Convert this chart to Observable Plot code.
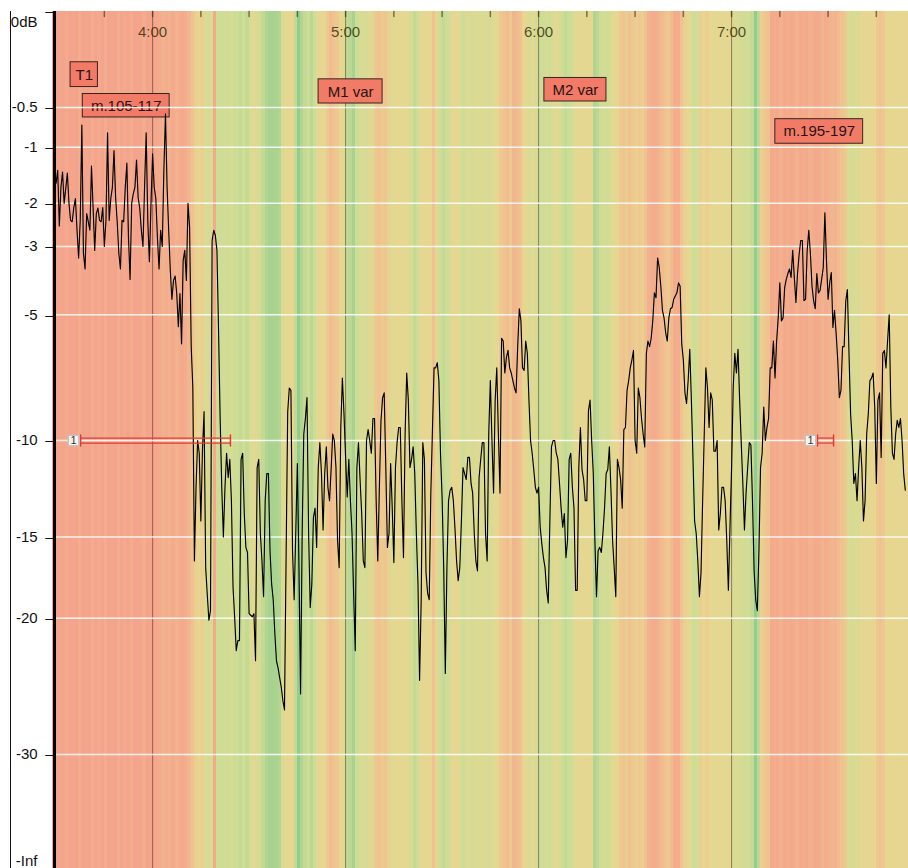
<!DOCTYPE html>
<html><head><meta charset="utf-8">
<script src="https://cdn.jsdelivr.net/npm/d3@7"></script>
<script src="https://cdn.jsdelivr.net/npm/@observablehq/plot@0.6"></script>
<style>
body{margin:0;background:#fff;}
#wrap{position:relative;width:908px;height:868px;overflow:hidden;}
#wrap svg{display:block;}
#mask{position:absolute;left:0;top:0;width:10px;height:868px;background:#fff;}
#edge{position:absolute;left:10px;top:11px;width:1px;height:857px;background:#111;}
</style></head><body><div id="wrap"><div id="mask"></div><div id="edge"></div></div>
<script>
// ---- time axis (seconds) ----
const xDomain = [209.5, 475];
const minuteTicks = [240, 300, 360, 420];
const quarterTicks = [225, 240, 255, 270, 285, 300, 315, 330, 345, 360, 375, 390, 405, 420, 435, 450, 465];

// ---- level axis (dB) ----
const yDomain = [-39.9, 0];
const levelTicks = [0, -0.5, -1, -2, -3, -5, -10, -15, -20, -30];
const gridLevels = [-0.5, -1, -2, -3, -5, -10, -15, -20, -30];
const endLabels = ["0dB", "-Inf"];
const endLevels = [0, -39.9];

// ---- loudness curve (dB), one value every loudStep seconds from loudStart ----
const loudStart = 210;
const loudStep = 0.5;
const loudness = [
 -1.6,-1.37,-2.5,-1.68,-1.4,-2.0,-1.7,-1.42,-2.0,-2.37,-2.4,-2.09,-1.9,-2.6,-3.3,-2.37,-0.7,-3.18,-3.6,-2.22,
 -2.4,-2.6,-1.3,-2.09,-3.1,-2.22,-2.1,-2.37,-2.4,-2.09,-3.0,-2.37,-0.8,-2.37,-1.9,-1.68,-1.05,-1.88,-2.4,-3.18,
 -3.6,-2.37,-2.4,-1.68,-1.25,-2.78,-3.9,-2.0,-1.8,-1.68,-1.2,-1.88,-2.1,-2.6,-3.0,-1.68,-0.8,-2.37,-3.4,-2.0,
 -1.1,-1.68,-1.9,-2.78,-3.6,-2.6,-3.0,-1.37,-0.57,-1.68,-2.6,-3.64,-4.5,-3.93,-3.8,-4.32,-5.4,-4.32,-6.0,-3.37,
 -3.1,-3.93,-2.0,-2.53,-6.1,-7.68,-16.4,-12.3,-10.0,-10.6,-14.1,-10.46,-8.7,-16.8,-18.5,-20.13,-19.5,-2.85,-2.6,-2.72,
 -3.1,-5.52,-9.0,-12.3,-15.0,-12.3,-10.6,-11.8,-10.9,-13.0,-18.0,-19.9,-22.2,-21.5,-21.5,-10.9,-10.6,-13.7,-15.6,-15.9,
 -19.7,-19.8,-19.9,-19.7,-22.9,-11.3,-10.9,-14.8,-16.4,-18.6,-13.0,-11.6,-11.6,-15.8,-17.8,-18.8,-21.0,-22.9,-23.4,-24.1,
 -24.8,-25.8,-26.5,-16.2,-8.7,-7.7,-7.8,-15.8,-18.8,-14.8,-11.1,-16.8,-25.3,-14.8,-9.7,-9.0,-8.1,-14.8,-19.3,-17.8,
 -13.9,-13.4,-15.6,-11.3,-10.1,-11.6,-14.6,-11.6,-10.3,-12.3,-13.0,-11.4,-9.7,-10.0,-11.3,-15.2,-16.8,-9.4,-7.3,-8.8,
 -10.8,-12.8,-10.9,-13.0,-14.8,-18.4,-22.2,-11.3,-10.1,-11.9,-13.7,-16.4,-16.8,-10.0,-9.5,-10.0,-10.6,-9.0,-9.0,-13.0,
 -16.4,-12.3,-9.1,-8.1,-7.9,-11.3,-15.6,-14.8,-11.1,-13.4,-16.5,-11.3,-10.1,-9.4,-9.4,-13.0,-16.2,-9.7,-7.1,-8.2,
 -11.3,-10.9,-10.3,-11.6,-14.8,-17.8,-24.3,-18.8,-10.1,-10.9,-17.1,-18.4,-18.8,-12.6,-9.5,-6.9,-6.9,-6.7,-7.4,-10.6,
 -12.8,-16.8,-23.8,-16.8,-13.0,-12.45,-12.3,-13.0,-14.5,-16.4,-17.6,-16.8,-14.1,-11.3,-11.6,-11.9,-10.8,-10.8,-12.1,-12.6,
 -14.8,-16.4,-17.0,-11.8,-10.9,-10.1,-10.1,-14.8,-16.4,-9.7,-7.4,-10.0,-12.6,-8.2,-6.9,-9.7,-12.6,-5.8,-5.9,-7.1,
 -6.5,-6.24,-6.9,-7.1,-7.4,-7.7,-7.9,-6.1,-4.8,-5.19,-6.9,-7.0,-5.9,-6.35,-8.2,-10.0,-10.6,-11.4,-12.3,-12.6,
 -12.3,-14.45,-15.4,-16.2,-16.8,-18.2,-19.0,-14.1,-10.3,-10.0,-10.0,-10.6,-10.9,-12.1,-13.4,-14.45,-13.7,-16.2,-15.2,-10.9,
 -10.6,-12.3,-13.4,-18.2,-18.2,-11.3,-9.4,-11.4,-11.9,-13.0,-13.0,-8.65,-8.2,-10.0,-11.6,-15.2,-18.6,-15.8,-15.6,-15.9,
 -14.8,-13.4,-11.6,-11.4,-10.3,-12.45,-15.2,-16.8,-18.6,-10.9,-11.3,-11.9,-13.4,-9.5,-9.4,-7.8,-7.4,-6.9,-6.6,-6.24,
 -10.0,-10.6,-7.7,-8.1,-9.0,-9.7,-10.3,-6.35,-5.9,-6.1,-5.8,-5.19,-4.3,-4.45,-3.3,-3.56,-4.1,-4.85,-5.1,-5.6,
 -5.9,-5.09,-4.8,-4.76,-4.5,-4.4,-4.3,-4.0,-4.1,-6.0,-6.6,-7.9,-8.35,-7.4,-6.2,-8.2,-10.9,-14.1,-14.8,-16.4,
 -18.6,-17.1,-13.0,-9.7,-6.9,-7.7,-9.4,-7.9,-8.2,-10.5,-10.5,-10.0,-14.6,-13.7,-12.3,-12.3,-13.0,-15.2,-18.2,-14.45,
 -11.3,-7.7,-6.35,-7.1,-6.2,-8.2,-10.1,-12.1,-14.6,-12.6,-11.3,-10.1,-10.2,-13.0,-17.0,-18.8,-19.5,-15.8,-11.3,-10.6,
 -8.5,-10.0,-9.4,-9.0,-6.9,-6.9,-5.9,-7.3,-5.9,-5.1,-4.0,-5.2,-5.1,-4.14,-3.9,-3.73,-3.6,-3.84,-3.1,-3.84,
 -4.6,-3.73,-3.2,-2.85,-2.85,-4.54,-4.5,-3.1,-2.6,-3.18,-4.1,-4.54,-4.8,-3.73,-4.3,-4.23,-3.9,-3.56,-2.2,-3.37,
 -4.5,-4.0,-3.7,-5.42,-4.85,-5.63,-6.6,-8.1,-7.8,-6.1,-6.1,-4.54,-4.2,-6.35,-8.8,-10.0,-12.1,-11.6,-13.0,-11.3,
 -10.0,-11.3,-14.1,-13.0,-9.7,-8.8,-7.4,-7.3,-7.1,-8.5,-12.1,-8.2,-7.9,-10.8,-6.35,-6.24,-6.9,-5.88,-5.0,-8.5,
 -10.6,-10.9,-9.7,-9.08,-9.4,-9.0,-10.0,-11.6,-12.45
];

// ---- background tone stripes, one per second from stripeStart (0 = red, 1 = green) ----
const stripeStart = 209;
const stripeTone = [
 0.05,
 0.05,0.08,0.05,0.1,0.05,0.08,0.05,0.15,0.05,0.08,
 0.05,0.15,0.05,0.1,0.05,0.15,0.05,0.08,0.05,0.15,
 0.05,0.1,0.05,0.15,0.05,0.05,0.08,0.15,0.05,0.08,
 0.05,0.1,0.15,0.2,0.15,0.2,0.12,0.2,0.15,0.1,
 0.15,0.25,0.35,0.45,0.5,0.45,0.6,0.65,0.6,0.1,
 0.7,0.7,0.65,0.7,0.6,0.72,0.7,0.75,0.68,0.75,
 0.6,0.55,0.6,0.65,0.75,0.85,0.9,0.9,0.88,0.85,
 0.6,0.5,0.55,0.5,0.75,1.0,0.85,0.75,0.7,0.8,
 0.7,0.55,0.5,0.55,0.4,0.3,0.35,0.4,0.5,0.55,
 0.75,0.8,0.9,0.7,0.65,0.6,0.65,0.55,0.6,0.4,
 0.35,0.4,0.38,0.45,0.6,0.55,0.5,0.55,0.5,0.55,
 0.6,0.75,0.7,0.55,0.5,0.55,0.5,0.35,0.5,0.7,
 0.75,0.7,0.65,0.55,0.5,0.55,0.7,0.65,0.6,0.62,
 0.6,0.6,0.6,0.6,0.65,0.6,0.55,0.5,0.4,0.35,
 0.3,0.4,0.25,0.3,0.35,0.5,0.55,0.6,0.55,0.65,
 0.7,0.7,0.65,0.7,0.6,0.55,0.6,0.7,0.75,0.72,
 0.7,0.55,0.5,0.55,0.55,0.5,0.55,0.85,0.8,0.7,
 0.65,0.7,0.6,0.55,0.5,0.4,0.38,0.42,0.35,0.4,
 0.45,0.4,0.45,0.35,0.2,0.15,0.15,0.2,0.3,0.35,
 0.4,0.3,0.15,0.15,0.35,0.45,0.5,0.55,0.7,0.65,
 0.45,0.5,0.45,0.5,0.55,0.55,0.5,0.55,0.55,0.5,
 0.65,0.6,0.65,0.62,0.7,0.65,0.75,1.0,0.8,0.45,
 0.4,0.35,0.1,0.15,0.1,0.2,0.1,0.15,0.1,0.12,
 0.2,0.1,0.15,0.1,0.2,0.15,0.1,0.12,0.2,0.15,
 0.2,0.25,0.2,0.3,0.35,0.4,0.6,0.65,0.6,0.62,
 0.55,0.5,0.55,0.5,0.5,0.4,0.35,0.4,0.5,0.55,
 0.5,0.5,0.55,0.5,0.5,0.5
];
const toneStops = [0, 0.3, 0.5, 0.7, 1];
const toneColors = ["#f59f8b", "#f1bb8f", "#e8d690", "#cedd96", "#93cc8c"];

// ---- annotation boxes ----
const annoLabels = ["T1", "m.105-117", "M1 var", "M2 var", "m.195-197"];
const annoStart  = [214.5, 218.3, 291.6, 361.8, 433.6];
const annoEnd    = [223.0, 245.3, 311.5, 381.1, 460.9];
const annoTop    = [-0.14, -0.37, -0.25, -0.24, -0.63];
const annoBottom = [-0.31, -0.61, -0.46, -0.44, -0.95];

// ---- range markers ----
const markerLabels = ["1", "1"];
const markerStart  = [217.6, 446.7];
const markerEnd    = [264.2, 451.7];
const markerLevel  = [-10, -10];

const F = "'Liberation Sans', Arial, sans-serif";
const stripes = stripeTone.map((v, i) => ({t: stripeStart + i, v}));
const series = loudness.map((v, i) => ({t: loudStart + i * loudStep, v}));
const annos = annoLabels.map((label, i) => ({label, t1: annoStart[i], t2: annoEnd[i], top: annoTop[i], bottom: annoBottom[i]}));
const markers = markerLabels.map((label, i) => ({label, start: markerStart[i], end: markerEnd[i], level: markerLevel[i]}));
const tickShape = {draw(ctx, l) { ctx.moveTo(0, 0); ctx.lineTo(0, l); }};
const capShape = {draw(ctx, l) { ctx.moveTo(0, -l / 2); ctx.lineTo(0, l / 2); }};
const fmtTime = t => `${Math.floor(t / 60)}:${String(t % 60).padStart(2, "0")}`;
const fmtLevel = d => (d === 0 ? "" : `${d}\u2002`) + "\u2013";
const red = "#e03a36";

const chart = Plot.plot({
  width: 908, height: 868,
  marginLeft: 54, marginRight: 0, marginTop: 11, marginBottom: 0,
  style: {fontFamily: F, background: "transparent"},
  x: {domain: xDomain, axis: null},
  y: {type: "pow", exponent: 0.5, domain: yDomain},
  color: {type: "linear", domain: toneStops, range: toneColors},
  marks: [
    Plot.rect(stripes, {x1: "t", x2: d => d.t + 1, fill: "v", shapeRendering: "crispEdges"}),
    Plot.ruleX(minuteTicks, {stroke: "#2a1500", strokeOpacity: 0.45}),
    Plot.rect(annos, {x1: "t1", x2: "t2", y1: "top", y2: "bottom", fill: "#f17b67", stroke: "#3a2222", strokeWidth: 1}),
    Plot.text(annos, {x: d => (d.t1 + d.t2) / 2, y: "top", dy: 12.5, text: "label", fontSize: 15, fill: "#2a1212"}),
    Plot.ruleY(gridLevels, {stroke: "#fff", strokeOpacity: 0.85, strokeWidth: 1.5}),
    Plot.vector(quarterTicks, {x: d => d, frameAnchor: "top", length: 5, anchor: "start", shape: tickShape, stroke: "#2a1500", strokeOpacity: 0.55}),
    Plot.text(minuteTicks, {x: d => d, frameAnchor: "top", dy: 21, lineAnchor: "middle", text: fmtTime, fontSize: 15, fill: "#2a2200", fillOpacity: 0.78}),
    Plot.line(series, {x: "t", y: "v", stroke: "#000", strokeWidth: 1.15}),
    Plot.ruleY(markers, {x1: "start", x2: "end", y: "level", dy: -2.5, stroke: red, strokeWidth: 1.2}),
    Plot.ruleY(markers, {x1: "start", x2: "end", y: "level", dy: 2.5, stroke: red, strokeWidth: 1.2}),
    Plot.vector(markers, {x: "start", y: "level", length: 11, anchor: "start", shape: capShape, stroke: red, strokeWidth: 1.5}),
    Plot.vector(markers, {x: "end", y: "level", length: 11, anchor: "start", shape: capShape, stroke: red, strokeWidth: 1.5}),
    Plot.dot(markers, {x: "start", y: "level", dx: -7, symbol: "square", r: 6, fill: "#f6f3ef", stroke: "#c9c0b6"}),
    Plot.text(markers, {x: "start", y: "level", dx: -7, text: "label", fontSize: 11, fill: "#333"}),
    Plot.axisY(levelTicks, {anchor: "left", tickSize: 0, tickPadding: 1, label: null,
      tickFormat: fmtLevel, fontSize: 15, color: "#111"}),
    Plot.text([endLevels[0]], {y: d => d, frameAnchor: "left", dx: -17, dy: 11, text: () => endLabels[0], textAnchor: "end", fontSize: 15, fill: "#111"}),
    Plot.text([endLevels[1]], {y: d => d, frameAnchor: "left", dx: -17, dy: -7, text: () => endLabels[1], textAnchor: "end", fontSize: 15, fill: "#111"}),
    Plot.ruleX([xDomain[0]], {stroke: "#000", strokeWidth: 3})
  ]
});
document.getElementById("wrap").prepend(chart);
</script>
</body></html>
